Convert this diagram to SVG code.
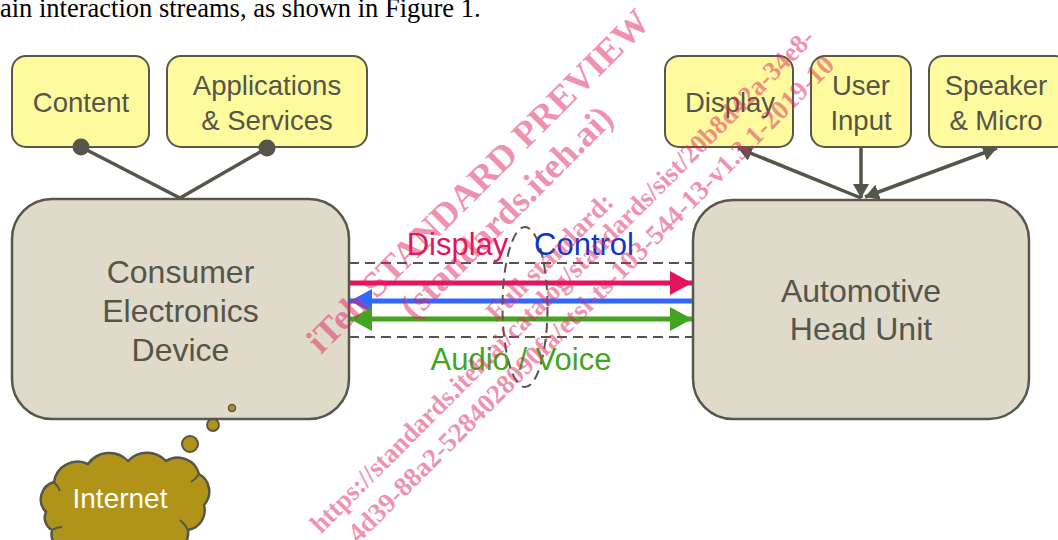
<svg xmlns="http://www.w3.org/2000/svg" width="1058" height="540" viewBox="0 0 1058 540">
  <style>
    .box { fill: #FEFB9E; stroke: #57574C; stroke-width: 2; }
    .dev { fill: #DFDACA; stroke: #57574C; stroke-width: 2.5; }
    .lbl { font-family: "Liberation Sans", Arial, sans-serif; fill: #55554A; text-anchor: middle; }
    .sm { font-size: 27.5px; }
    .lg { font-size: 32px; }
    .link { stroke: #55554A; stroke-width: 3.5; fill: none; }
    .dash { stroke: #55554A; stroke-width: 2; fill: none; stroke-dasharray: 10 6; }
    .stream { font-family: "Liberation Sans", Arial, sans-serif; font-size: 31px; text-anchor: middle; }
    .wm { font-family: "Liberation Serif", "Times New Roman", serif; font-weight: bold; fill: #E0245F; fill-opacity: 0.5; }
  </style>
  <defs>
    <marker id="ah" markerUnits="userSpaceOnUse" markerWidth="16" markerHeight="18" refX="14" refY="8" orient="auto-start-reverse">
      <path d="M0,0 L14,8 L0,16 Z" fill="#55554A"/>
    </marker>
    <marker id="ahPink" markerUnits="userSpaceOnUse" markerWidth="24" markerHeight="26" refX="22" refY="12" orient="auto-start-reverse">
      <path d="M0,0 L22,12 L0,24 Z" fill="#E5135F"/>
    </marker>
    <marker id="ahBlue" markerUnits="userSpaceOnUse" markerWidth="24" markerHeight="26" refX="22" refY="12" orient="auto-start-reverse">
      <path d="M0,0 L22,12 L0,24 Z" fill="#3366FF"/>
    </marker>
    <marker id="ahGreen" markerUnits="userSpaceOnUse" markerWidth="24" markerHeight="26" refX="22" refY="12" orient="auto-start-reverse">
      <path d="M0,0 L22,12 L0,24 Z" fill="#43A51F"/>
    </marker>
  </defs>

  <rect width="1058" height="540" fill="#FFFFFF"/>

  <!-- running text line above the figure -->
  <text x="0" y="17" font-family="'Liberation Serif', 'Times New Roman', serif" font-size="26.5" fill="#000000">ain interaction streams, as shown in Figure 1.</text>

  <!-- connectors -->
  <g id="connectors">
    <line class="link" x1="81" y1="147" x2="180" y2="198"/>
    <line class="link" x1="267" y1="148" x2="180" y2="198"/>
    <line class="link" x1="861" y1="198" x2="738" y2="148" marker-end="url(#ah)"/>
    <line class="link" x1="861" y1="147" x2="861" y2="198" marker-end="url(#ah)"/>
    <line class="link" x1="865" y1="197" x2="997" y2="148" marker-start="url(#ah)" marker-end="url(#ah)"/>

    <!-- stream channel between the two devices -->
    <line class="dash" x1="349" y1="263" x2="693" y2="263"/>
    <line class="dash" x1="349" y1="337" x2="693" y2="337"/>
    <line x1="349" y1="283" x2="692" y2="283" stroke="#E5135F" stroke-width="5" marker-end="url(#ahPink)"/>
    <line x1="693" y1="301" x2="350" y2="301" stroke="#3366FF" stroke-width="5" marker-end="url(#ahBlue)"/>
    <line x1="350" y1="319" x2="692" y2="319" stroke="#43A51F" stroke-width="5" marker-start="url(#ahGreen)" marker-end="url(#ahGreen)"/>
    <ellipse class="dash" cx="525" cy="307" rx="22.5" ry="80"/>
    <text class="stream" x="457.5" y="255" fill="#E5135F">Display</text>
    <text class="stream" x="584" y="255" fill="#0A36C8">Control</text>
    <text class="stream" x="521" y="370" fill="#43A51F">Audio / Voice</text>
  </g>

  <!-- source nodes -->
  <g id="content">
    <rect class="box" x="12" y="56" width="137" height="91" rx="14"/>
    <text class="lbl sm" x="81" y="112">Content</text>
    <circle cx="81" cy="147" r="8.5" fill="#55554A"/>
  </g>
  <g id="apps">
    <rect class="box" x="167" y="56" width="200" height="91" rx="14"/>
    <text class="lbl sm" x="267" y="95">Applications</text>
    <text class="lbl sm" x="267" y="130">&amp; Services</text>
    <circle cx="267" cy="148" r="8.5" fill="#55554A"/>
  </g>

  <!-- vehicle peripherals -->
  <g id="display">
    <rect class="box" x="665" y="56" width="128" height="91" rx="14"/>
    <text class="lbl sm" x="730" y="112">Display</text>
  </g>
  <g id="userInput">
    <rect class="box" x="811" y="56" width="100" height="91" rx="14"/>
    <text class="lbl sm" x="861" y="95">User</text>
    <text class="lbl sm" x="861" y="130">Input</text>
  </g>
  <g id="speaker">
    <rect class="box" x="929" y="56" width="140" height="91" rx="14"/>
    <text class="lbl sm" x="996" y="95">Speaker</text>
    <text class="lbl sm" x="996" y="130">&amp; Micro</text>
  </g>

  <!-- main devices -->
  <g id="ceDevice">
    <rect class="dev" x="12" y="199" width="337" height="220" rx="40"/>
    <text class="lbl lg" x="180.5" y="283">Consumer</text>
    <text class="lbl lg" x="180.5" y="322">Electronics</text>
    <text class="lbl lg" x="180.5" y="361">Device</text>
  </g>
  <g id="headUnit">
    <rect class="dev" x="693" y="200" width="336" height="219" rx="40"/>
    <text class="lbl lg" x="861" y="302">Automotive</text>
    <text class="lbl lg" x="861" y="340">Head Unit</text>
  </g>

  <!-- internet thought bubble -->
  <g id="internet">
    <circle cx="232" cy="408" r="3.5" fill="#B09419" stroke="#55554A" stroke-width="1.5"/>
    <circle cx="213" cy="425" r="6" fill="#B09419" stroke="#55554A" stroke-width="1.8"/>
    <circle cx="190" cy="444" r="8" fill="#B09419" stroke="#55554A" stroke-width="2"/>
    <path d="M46,512 A18,18 0 0 1 54,482 A24,24 0 0 1 88,464 A26,26 0 0 1 128,461 A26,26 0 0 1 166,461 A22,22 0 0 1 199,474 A20,20 0 0 1 204,505 A20,20 0 0 1 188,530 A24,24 0 0 1 150,552 L70,552 A18,18 0 0 1 52,530 A14,14 0 0 1 46,512 Z" fill="#B09419" stroke="#55554A" stroke-width="2.5"/>
    <path d="M54,482 q4,4 6,9 M199,474 q-3,5 -8,8 M188,530 q-3,-6 -8,-10 M52,530 q5,-3 10,-3" fill="none" stroke="#55554A" stroke-width="2"/>
    <text x="120" y="508" font-family="'Liberation Sans', Arial, sans-serif" font-size="28" fill="#FFFFFF" text-anchor="middle">Internet</text>
  </g>

  <!-- diagonal preview stamp -->
  <g transform="rotate(-45)">
    <text class="wm" x="-24" y="478" font-size="36" textLength="468" lengthAdjust="spacingAndGlyphs">iTeh STANDARD PREVIEW</text>
    <text class="wm" x="66" y="520" font-size="36" textLength="284" lengthAdjust="spacingAndGlyphs">(standards.iteh.ai)</text>
    <text class="wm" x="123" y="579" font-size="27" textLength="168" lengthAdjust="spacingAndGlyphs">Full standard:</text>
    <text class="wm" x="-151" y="605" font-size="27" textLength="700" lengthAdjust="spacingAndGlyphs">https://standards.iteh.ai/catalog/standards/sist/20b8d42a-34e8-</text>
    <text class="wm" x="-131" y="638" font-size="27" textLength="675" lengthAdjust="spacingAndGlyphs">4d39-88a2-5284028090fa/etsi-ts-103-544-13-v1.3.1-2019-10</text>
  </g>
</svg>
